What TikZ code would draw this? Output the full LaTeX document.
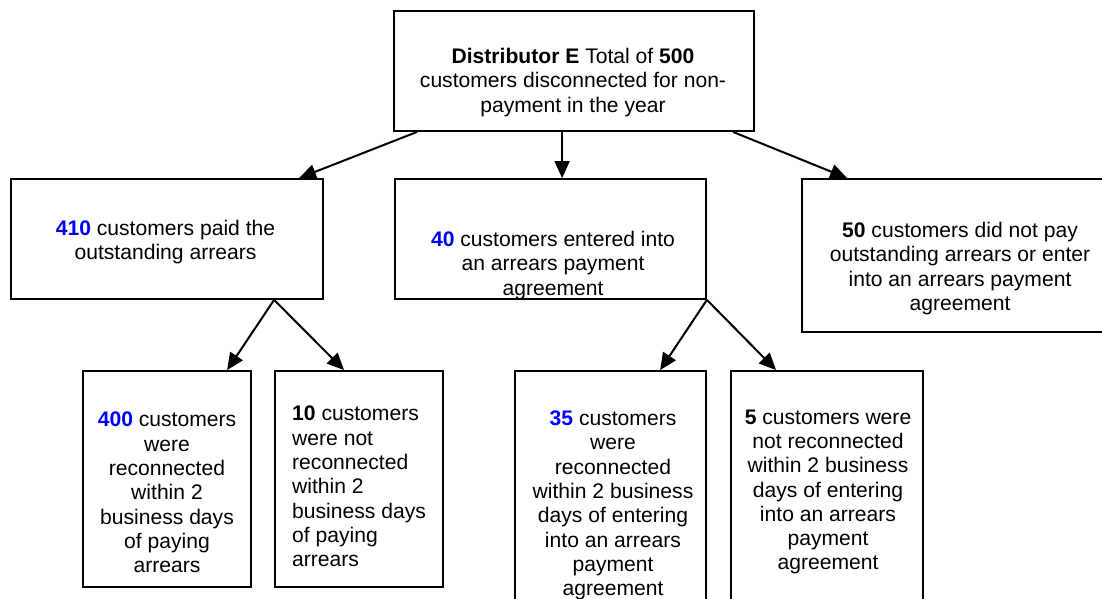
\documentclass[tikz,border=0pt]{standalone}
\usepackage{fontspec}
\setmainfont{Liberation Sans}
\usetikzlibrary{arrows.meta}
\definecolor{numblue}{RGB}{0,0,255}
\tikzset{
  box/.style={draw=black, line width=1.8pt, fill=white, inner sep=0pt, rectangle},
  txt/.style={inner sep=0pt, font=\fontsize{21.1}{24.3}\selectfont, text=black},
  arr/.style={line width=2pt, -{Triangle[length=17pt,width=15pt]}},
}
\newcommand{\bnum}[1]{\textbf{\textcolor{numblue}{#1}}}
\begin{document}
\begin{tikzpicture}[x=1pt,y=-1pt]
\useasboundingbox (0,0) rectangle (1102,599);
\fill[white] (0,0) rectangle (1102,599);
\clip (0,0) rectangle (1102,599);
% boxes
\node[box, minimum width=360pt, minimum height=120pt] (top) at (574,71) {};
\node[box, minimum width=312pt, minimum height=120pt] (L) at (167,239) {};
\node[box, minimum width=311pt, minimum height=120pt] (M) at (550.5,239) {};
\node[box, minimum width=316pt, minimum height=153pt] (R) at (960,255.5) {};
\node[box, minimum width=168pt, minimum height=216pt] (A) at (167,479) {};
\node[box, minimum width=168pt, minimum height=216pt] (B) at (359,479) {};
\node[box, minimum width=191pt, minimum height=249pt] (C) at (610.5,495.5) {};
\node[box, minimum width=192pt, minimum height=249pt] (D) at (827,495.5) {};
% texts
\node[txt, align=center] (topt) at (573,82.5) {\textbf{Distributor E} Total of \textbf{500}\\customers disconnected for non-\\payment in the year};
\node[txt, align=center] (Lt) at (165.5,242) {\bnum{410} customers paid the\\outstanding arrears};
\node[txt, align=center] (Mt) at (553,265.5) {\bnum{40} customers entered into\\an arrears payment\\agreement};
\node[txt, align=center] (Rt) at (960,268.5) {\textbf{50} customers did not pay\\outstanding arrears or enter\\into an arrears payment\\agreement};
\node[txt, align=center] (At) at (167,492.5) {\bnum{400} customers\\were\\reconnected\\within 2\\business days\\of paying\\arrears};
\node[txt, align=left, anchor=west] (Bt) at (292,486.5) {\textbf{10} customers\\were not\\reconnected\\within 2\\business days\\of paying\\arrears};
\node[txt, align=center] (Ct) at (613,505.5) {\bnum{35} customers\\were\\reconnected\\within 2 business\\days of entering\\into an arrears\\payment\\agreement};
\node[txt, align=center] (Dt) at (828,492) {\textbf{5} customers were\\not reconnected\\within 2 business\\days of entering\\into an arrears\\payment\\agreement};
% connectors
\draw[arr] ([xshift=24pt]top.south west) -- ([xshift=289pt]L.north west);
\draw[arr] ([xshift=169pt]top.south west) -- ([xshift=168pt]M.north west);
\draw[arr] ([xshift=-22pt]top.south east) -- ([xshift=46pt]R.north west);
\draw[arr] ([xshift=264pt]L.south west) -- ([xshift=145pt]A.north west);
\draw[arr] ([xshift=264pt]L.south west) -- ([xshift=70pt]B.north west);
\draw[arr] (M.south east) -- ([xshift=146pt]C.north west);
\draw[arr] (M.south east) -- ([xshift=46pt]D.north west);
\end{tikzpicture}
\end{document}
